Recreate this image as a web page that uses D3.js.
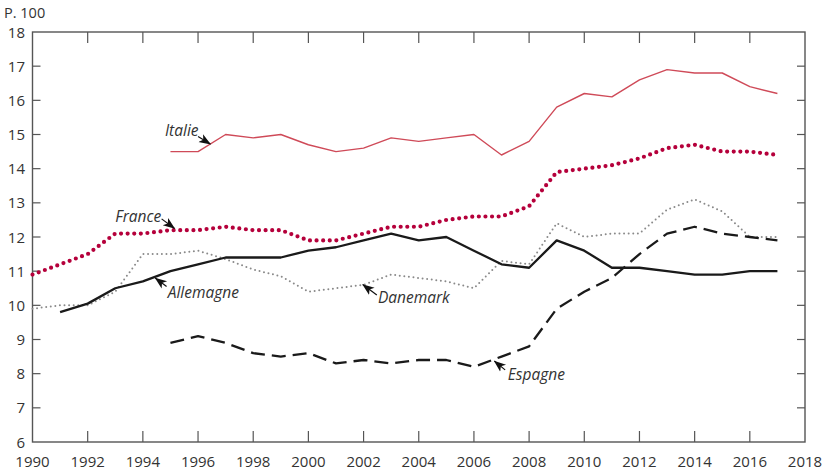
<!DOCTYPE html>
<html>
<head>
<meta charset="utf-8">
<script src="https://cdn.jsdelivr.net/npm/d3@7"></script>
<style>
  body { margin: 0; background: #fff; }
  svg text { font-family: "Open Sans", "Noto Sans", sans-serif; fill: #333; }
</style>
</head>
<body>
<svg id="canvas" width="827" height="473"></svg>
<script>
let years = d3.range(1990, 2018);
let yTicks = d3.range(6, 19);
let xTicks = d3.range(1990, 2019, 2);

// values by year, null where the series has no data
let italie = [null, null, null, null, null, 14.5, 14.5, 15.0, 14.9, 15.0, 14.7, 14.5, 14.6, 14.9, 14.8, 14.9, 15.0, 14.4, 14.8, 15.8, 16.2, 16.1, 16.6, 16.9, 16.8, 16.8, 16.4, 16.2];
let france = [10.9, 11.2, 11.5, 12.1, 12.1, 12.2, 12.2, 12.3, 12.2, 12.2, 11.9, 11.9, 12.1, 12.3, 12.3, 12.5, 12.6, 12.6, 12.9, 13.9, 14.0, 14.1, 14.3, 14.6, 14.7, 14.5, 14.5, 14.4];
let danemark = [9.9, 10.0, 10.0, 10.4, 11.5, 11.5, 11.6, 11.35, 11.05, 10.85, 10.4, 10.5, 10.6, 10.9, 10.8, 10.7, 10.5, 11.3, 11.2, 12.4, 12.0, 12.1, 12.1, 12.8, 13.1, 12.75, 12.0, 12.0];
let allemagne = [null, 9.8, 10.05, 10.5, 10.7, 11.0, 11.2, 11.4, 11.4, 11.4, 11.6, 11.7, 11.9, 12.1, 11.9, 12.0, 11.6, 11.2, 11.1, 11.9, 11.6, 11.1, 11.1, 11.0, 10.9, 10.9, 11.0, 11.0];
let espagne = [null, null, null, null, null, 8.9, 9.1, 8.9, 8.6, 8.5, 8.6, 8.3, 8.4, 8.3, 8.4, 8.4, 8.2, 8.5, 8.8, 9.9, 10.4, 10.8, 11.5, 12.1, 12.3, 12.1, 12.0, 11.9];

let series = [
  { name: "Italie", values: italie, color: "#cf4a58", width: 1.4, dash: null, cap: "butt" },
  { name: "Danemark", values: danemark, color: "#8a8a8a", width: 2, dash: "0 4.6", cap: "round" },
  { name: "Allemagne", values: allemagne, color: "#1a1a1a", width: 2.3, dash: null, cap: "butt" },
  { name: "Espagne", values: espagne, color: "#1a1a1a", width: 2.3, dash: "14 7", cap: "butt" },
  { name: "France", values: france, color: "#b5003b", width: 4.2, dash: "0 6.6", cap: "round" }
];

// label text position (left, baseline) and arrow (from tail to tip), in data units
let labels = [
  { name: "Italie", tx: 1994.8, ty: 14.96, from: [1996.0, 14.94], to: [1996.45, 14.72] },
  { name: "France", tx: 1993.0, ty: 12.45, from: [1994.68, 12.53], to: [1995.15, 12.25] },
  { name: "Allemagne", tx: 1994.9, ty: 10.22, from: [1994.86, 10.55], to: [1994.45, 10.8] },
  { name: "Danemark", tx: 2002.52, ty: 10.07, from: [2002.48, 10.3], to: [2001.97, 10.61] },
  { name: "Espagne", tx: 2007.23, ty: 7.82, from: [2007.13, 8.11], to: [2006.74, 8.37] }
];

let svg = d3.select("#canvas");
let plotLeft = 32.5, plotRight = 805, plotTop = 32, plotBottom = 442;

let x = d3.scaleLinear().domain([1990, 2018]).range([plotLeft, plotRight]);
let y = d3.scaleLinear().domain([6, 18]).range([plotBottom, plotTop]);

let frameColor = "#555";

// frame
svg.append("rect")
  .attr("x", plotLeft).attr("y", plotTop)
  .attr("width", plotRight - plotLeft).attr("height", plotBottom - plotTop)
  .attr("fill", "none").attr("stroke", frameColor).attr("stroke-width", 1.4);

// bottom ticks pointing up, top ticks pointing down
svg.selectAll(".xtick-b").data(xTicks.slice(1, -1)).enter().append("line")
  .attr("x1", (d) => x(d)).attr("x2", (d) => x(d))
  .attr("y1", plotBottom).attr("y2", plotBottom - 11)
  .attr("stroke", frameColor).attr("stroke-width", 1.2);
svg.selectAll(".xtick-t").data(xTicks.slice(1, -1)).enter().append("line")
  .attr("x1", (d) => x(d)).attr("x2", (d) => x(d))
  .attr("y1", plotTop).attr("y2", plotTop + 11)
  .attr("stroke", frameColor).attr("stroke-width", 1.2);

// left and right ticks pointing inward
svg.selectAll(".ytick-l").data(yTicks.slice(1, -1)).enter().append("line")
  .attr("x1", plotLeft).attr("x2", plotLeft + 8)
  .attr("y1", (d) => y(d)).attr("y2", (d) => y(d))
  .attr("stroke", frameColor).attr("stroke-width", 1.2);
svg.selectAll(".ytick-r").data(yTicks.slice(1, -1)).enter().append("line")
  .attr("x1", plotRight).attr("x2", plotRight - 8)
  .attr("y1", (d) => y(d)).attr("y2", (d) => y(d))
  .attr("stroke", frameColor).attr("stroke-width", 1.2);

// tick labels
svg.selectAll(".ylab").data(yTicks).enter().append("text")
  .attr("x", 25).attr("y", (d) => y(d) + 5.5)
  .attr("text-anchor", "end").attr("font-size", 15)
  .text((d) => d);
svg.selectAll(".xlab").data(xTicks).enter().append("text")
  .attr("x", (d) => x(d)).attr("y", 467)
  .attr("text-anchor", "middle").attr("font-size", 15)
  .text((d) => d);

svg.append("text").attr("x", 4).attr("y", 18).attr("font-size", 14.5).text("P. 100");

// lines
let line = d3.line()
  .defined((d) => d != null)
  .x((d, i) => x(years[i]))
  .y((d) => y(d));

series.forEach((s) => {
  svg.append("path")
    .attr("d", line(s.values))
    .attr("fill", "none")
    .attr("stroke", s.color)
    .attr("stroke-width", s.width)
    .attr("stroke-dasharray", s.dash)
    .attr("stroke-linecap", s.cap)
    .attr("stroke-linejoin", "round");
});

// arrows
svg.append("defs").append("marker")
  .attr("id", "arrow")
  .attr("viewBox", "0 0 10 10")
  .attr("refX", 9.5).attr("refY", 5)
  .attr("markerWidth", 12).attr("markerHeight", 12)
  .attr("markerUnits", "userSpaceOnUse")
  .attr("orient", "auto")
  .append("path")
  .attr("d", "M0,1.2 L10,5 L0,8.8 L2.5,5 Z")
  .attr("fill", "#111");

labels.forEach((l) => {
  svg.append("line")
    .attr("x1", x(l.from[0])).attr("y1", y(l.from[1]))
    .attr("x2", x(l.to[0])).attr("y2", y(l.to[1]))
    .attr("stroke", "#111").attr("stroke-width", 1.2)
    .attr("marker-end", "url(#arrow)");
  svg.append("text")
    .attr("x", x(l.tx)).attr("y", y(l.ty))
    .attr("font-size", 15.5).attr("font-style", "italic")
    .text(l.name);
});
</script>
</body>
</html>
